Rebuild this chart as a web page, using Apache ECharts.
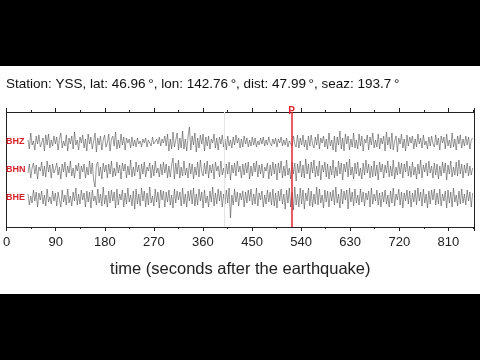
<!DOCTYPE html>
<html><head><meta charset="utf-8">
<script src="https://cdn.jsdelivr.net/npm/echarts@6/dist/echarts.min.js"></script>
<style>html,body{margin:0;padding:0;background:#000}#c{width:480px;height:360px}</style>
</head><body><div id="c"></div>
<script>
const titleText = 'Station: YSS, lat: 46.96\u2009°, lon: 142.76\u2009°, dist: 47.99\u2009°, seaz: 193.7\u2009°';
const axisTitle = 'time (seconds after the earthquake)';
const xMin = 0, xMax = 857, xStep = 90;
const pArrival = 522.5;
const grayMark = 399;
const channels = ['BHZ', 'BHN', 'BHE'];
const t0 = 42, dt = 2.5;
const bhz = [
2,-7,9,-3,1,-8,6,-2,7,-5,-1,4,-9,7,-3,8,-6,2,-4,6,
-2,5,-8,3,9,-6,1,-4,7,-9,4,-2,6,-7,10,-3,2,-8,5,-1,
7,-6,3,-9,8,-2,5,-7,1,9,-10,4,-3,6,-8,2,7,-5,-1,8,
-9,3,6,-4,10,-7,2,-6,8,-3,5,-8,4,-1,3,-6,5,-4,2,-5,
4,-2,1,-5,3,-1,4,-5,2,3,-4,5,-2,-4,3,-2,5,-4,3,-1,
6,-4,8,-9,3,-7,10,-5,2,9,-8,4,-6,11,-7,3,-9,5,15,-8,
6,-3,9,-10,4,-6,7,-2,8,-9,5,-4,6,-7,3,-1,8,-6,4,-8,
5,-2,7,-5,3,-8,6,-4,2,-6,5,-3,7,-1,4,-6,3,-5,6,-2,
4,-5,2,-4,5,-3,4,-5,1,-3,4,-2,5,-4,2,-3,5,-1,-4,3,
-2,4,-5,3,-1,5,-4,2,-3,4,-5,1,3,-4,6,-2,-5,7,-6,4,
-3,7,-5,2,-8,6,-4,7,-2,-6,5,-3,8,-7,4,-1,6,-5,3,-7,
9,-4,2,-8,6,-10,5,-3,11,-7,4,-9,8,-2,6,-8,3,-5,9,-6,
2,-7,8,-4,6,-9,3,-1,7,-8,5,-3,9,-6,2,-5,8,-7,4,-2,
6,-9,10,-3,5,-7,9,-8,1,6,-10,4,-2,8,-6,3,-9,7,-4,5,
-1,6,-7,3,-5,8,-2,4,-6,7,-3,1,-7,5,-4,6,-2,-5,7,-3,
4,-8,6,-1,5,-7,8,-4,2,-6,9,-5,3,-8,6,-2,7,-6,3,-4,
6,-3,5,-7,2,4];
const bhn = [
-3,6,-8,2,7,-4,5,-9,3,-1,8,-6,4,-7,9,-2,5,-8,6,-3,
1,7,-5,3,-9,6,-2,8,-7,4,-3,9,-6,2,-8,5,-1,7,-9,4,
-2,6,-8,3,-5,9,-4,7,-10,-17,5,8,-6,3,-9,7,-2,5,-8,6,
-4,9,-7,2,-6,8,-3,5,-9,7,-1,6,-8,4,-5,10,-7,3,-6,8,
-2,5,-9,6,-4,8,-7,3,-1,7,-8,5,-6,9,-3,2,-7,6,-5,8,
-3,6,-8,4,-7,5,12,-9,7,-4,10,-8,3,-6,9,-5,2,-8,7,-4,
6,-9,3,-5,8,-7,10,-2,-6,7,-4,9,-8,5,-3,6,-9,8,-1,4,
-7,9,-5,2,-8,6,-4,8,-10,5,-3,7,-6,9,-2,4,-8,6,-5,7,
-3,8,-9,4,-6,7,-2,9,-7,5,-4,6,-8,3,-1,7,-9,5,-6,8,
-4,6,-10,7,-3,9,-8,4,-6,10,-5,2,-9,8,-4,7,-11,6,-3,9,
-7,5,-8,11,-4,6,-9,8,-3,10,-7,4,-6,9,-10,5,-2,8,-7,6,
-9,4,-5,10,-8,3,-6,9,-4,7,-10,6,-2,8,-7,11,-5,3,-9,7,
-4,8,-6,2,-9,7,-5,10,-3,6,-8,4,-7,9,-6,5,-10,8,-2,6,
-8,5,-3,9,-7,4,-6,10,-9,3,-5,8,-4,7,-8,6,-2,9,-6,4,
-7,8,-5,3,-9,6,-4,10,-8,5,-2,7,-6,9,-3,4,-8,7,-5,6,
-9,4,-6,8,-3,7,-10,5,-4,9,-7,3,-5,8,-6,10,-4,6,-8,5,
-3,7,-6,4,-5,2];
const bhe = [
4,-7,2,-5,8,-3,6,-9,5,-2,7,-6,3,-8,9,-4,1,-6,7,-3,
5,-8,6,-2,-9,8,-4,3,-7,9,-5,2,-8,6,-3,10,-7,4,-6,8,
-2,5,-9,7,-4,6,-10,8,-3,2,-7,9,-5,4,-8,11,-6,3,-9,7,
-5,8,-3,6,-10,9,-7,4,-2,8,-9,5,-6,10,-4,3,-8,7,-11,9,
-6,4,-8,10,-3,7,-9,5,-7,11,-5,2,-8,9,-4,6,-10,8,-2,7,
-9,6,-4,8,-7,3,-10,9,-5,7,-2,6,-8,10,-6,4,-9,7,-3,8,
-6,10,-8,4,-7,9,-3,6,-10,8,-5,2,-9,7,-4,11,-8,5,-6,9,
-3,7,-9,4,-6,8,-5,10,-20,3,-7,9,-4,6,-8,5,-2,7,-9,6,
-5,8,-3,9,-7,4,-6,10,-8,5,-2,7,-9,3,-6,8,-4,6,-7,9,
-8,5,-10,7,-3,9,-6,4,-11,8,-5,10,-9,6,-12,11,-7,4,-9,10,
-6,8,-11,5,-3,10,-8,7,-9,4,-6,11,-7,9,-5,3,-10,8,-4,7,
-9,6,-3,8,-7,11,-5,4,-10,9,-6,7,-2,8,-11,10,-4,6,-8,9,
-5,3,-7,9,-4,6,-8,5,-2,7,-9,10,-6,4,-3,8,-7,5,-9,6,
-4,8,-6,3,-9,7,-5,10,-8,4,-2,9,-7,6,-10,5,-3,8,-6,7,
-9,5,-4,8,-7,10,-3,6,-8,9,-5,4,-10,7,-6,8,-2,9,-7,5,
-6,9,-8,4,-3,7,-10,8,-5,6,-9,10,-4,3,-8,7,-6,9,-5,4,
-7,8,-3,6,-9,5];
const traces = [bhz, bhn, bhe];

const FONT = '"Liberation Sans", Arial, Helvetica, sans-serif';
const chart = echarts.init(document.getElementById('c'), null, {renderer: 'canvas'});
const centers = [142, 170, 198];
const grids = [{left: 5, right: 6, top: 112, bottom: 133, show: false}];
const xAxes = [
  {type: 'value', gridIndex: 0, position: 'bottom', min: xMin, max: xMax, interval: xStep,
   axisLine: {show: true, onZero: false, lineStyle: {color: '#222', width: 1}},
   axisTick: {show: true, length: 4, lineStyle: {color: '#222'}},
   minorTick: {show: true, splitNumber: 2, length: 2, lineStyle: {color: '#222'}},
   axisLabel: {show: true, color: '#222', fontSize: 13, fontFamily: FONT, margin: 9,
     showMaxLabel: false},
   splitLine: {show: false},
   name: axisTitle, nameLocation: 'middle', nameGap: 34,
   nameTextStyle: {color: '#222', fontSize: 16.5, fontFamily: FONT}},
  {type: 'value', gridIndex: 0, position: 'top', min: xMin, max: xMax, interval: xStep,
   axisLine: {show: true, onZero: false, lineStyle: {color: '#222', width: 1}},
   axisTick: {show: true, length: 4, lineStyle: {color: '#222'}},
   minorTick: {show: true, splitNumber: 2, length: 2, lineStyle: {color: '#222'}},
   axisLabel: {show: false}, splitLine: {show: false}}
];
const yAxes = [
  {type: 'value', gridIndex: 0, position: 'left', min: 0, max: 1,
   axisLine: {show: true, onZero: false, lineStyle: {color: '#222'}},
   axisTick: {show: false}, axisLabel: {show: false}, splitLine: {show: false}},
  {type: 'value', gridIndex: 0, position: 'right', min: 0, max: 1,
   axisLine: {show: true, onZero: false, lineStyle: {color: '#222'}},
   axisTick: {show: false}, axisLabel: {show: false}, splitLine: {show: false}}
];
const series = [
  {type: 'line', xAxisIndex: 0, yAxisIndex: 0, data: [], z: 1, silent: true,
   markLine: {symbol: ['none', 'none'], silent: true, animation: false,
     label: {show: false},
     lineStyle: {color: '#e4e4e4', width: 1, type: 'solid'},
     data: [{xAxis: grayMark}]}},
  {type: 'line', xAxisIndex: 0, yAxisIndex: 0, data: [], z: 10, silent: true,
   markLine: {symbol: ['none', 'none'], silent: true, animation: false,
     label: {show: true, position: 'end', formatter: 'P', color: '#e3232c',
       fontSize: 10, fontWeight: 'bold', fontFamily: FONT, distance: -4},
     lineStyle: {color: '#e3232c', width: 1.5, type: 'solid'},
     data: [{xAxis: pArrival}]}}
];
traces.forEach((arr, k) => {
  const gi = k + 1;
  grids.push({left: 5, right: 6, top: centers[k] - 25, height: 50, show: false});
  xAxes.push({type: 'value', gridIndex: gi, min: xMin, max: xMax, show: false});
  yAxes.push({type: 'value', gridIndex: gi, min: -25, max: 25, show: false});
  series.push({type: 'line', xAxisIndex: gi + 1, yAxisIndex: gi + 1, showSymbol: false,
    symbol: 'none', z: 3, silent: true, clip: false,
    lineStyle: {color: '#444', width: 0.55},
    data: arr.map((v, i) => [t0 + i * dt, v])});
});
const graphics = [
  {type: 'rect', shape: {x: 0, y: 66, width: 480, height: 228}, style: {fill: '#fff'}, z: -10, silent: true}
];
channels.forEach((c, k) => {
  graphics.push({type: 'text', left: 6, top: centers[k] - 5, z: 20, silent: true,
    style: {text: c, fill: '#d8232a', font: 'bold 9px ' + FONT}});
});
chart.setOption({
  animation: false,
  backgroundColor: '#000',
  title: {text: titleText, left: 6, top: 77, padding: 0,
    textStyle: {color: '#111', fontSize: 13.5, fontWeight: 'normal', fontFamily: FONT}},
  grid: grids, xAxis: xAxes, yAxis: yAxes, series: series, graphic: graphics
});
</script></body></html>
